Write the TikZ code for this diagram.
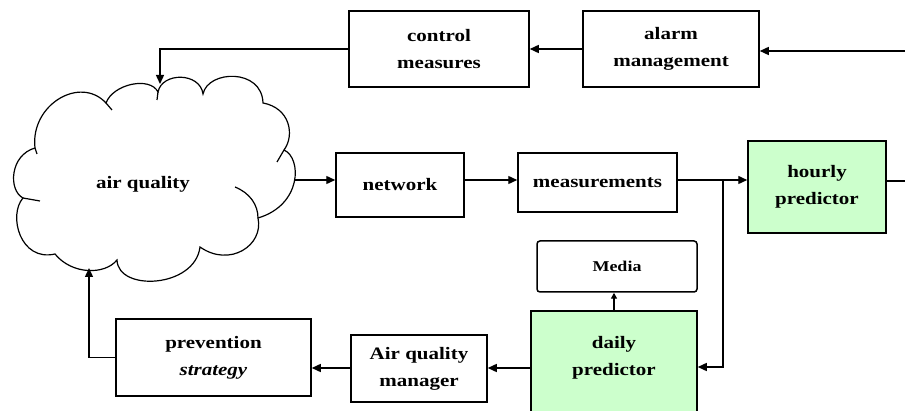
\documentclass[tikz,border=0pt]{standalone}
\usepackage{fontspec}
\setmainfont{Liberation Serif}[FakeStretch=1.2]
\usetikzlibrary{arrows.meta}
\definecolor{predgreen}{HTML}{CCFFCC}
\begin{document}
\begin{tikzpicture}[x=1pt,y=-1pt,
  lbl/.style={align=center, inner sep=0pt, font=\fontsize{17.5}{27}\selectfont\bfseries},
  box/.style={lbl, draw, line width=1.5pt},
  pred/.style={box, fill=predgreen},
  ln/.style={line width=1.4pt},
  arr/.style={ln, -{Triangle[length=9pt,width=8pt]}},
  sarr/.style={ln, -{Triangle[length=6pt,width=6pt]}},
  cloudline/.style={line width=1.2pt}]
\useasboundingbox (0,0) rectangle (905,411);
\fill[white] (0,0) rectangle (905,411);
\clip (0,0) rectangle (905,411);

% cloud
\draw[cloudline] (35,148) .. controls (30,105) and (80,75) .. (106,103)
 .. controls (113,84) and (150,76) .. (158,92)
 .. controls (162,72) and (200,72) .. (203,94)
 .. controls (208,70) and (262,68) .. (263,103)
 .. controls (290,108) and (295,135) .. (284,150)
 .. controls (302,158) and (302,205) .. (258,218)
 .. controls (264,245) and (230,268) .. (200,247)
 .. controls (195,288) and (118,292) .. (117,260)
 .. controls (105,275) and (72,275) .. (55,254)
 .. controls (20,262) and (8,215) .. (23,198)
 .. controls (8,190) and (10,155) .. cycle;
\draw[cloudline] (106,103) -- (112,110);
\draw[cloudline] (158,92) -- (157,100);
\draw[cloudline] (284,150) -- (277,162);
\draw[cloudline] (23,198) -- (40,201);
\draw[cloudline] (35,148) -- (37,154);
\draw[cloudline] (235,187) .. controls (250,193) and (258,205) .. (258,218);
\node[lbl] (cloud) at (143,184) {air quality};

% boxes
\node[box, minimum width=180pt, minimum height=76pt] (control) at (439,49) {control\\measures};
\node[box, minimum width=176pt, minimum height=76pt] (alarm) at (671,49) {alarm\\management};
\node[box, minimum width=128pt, minimum height=64pt] (network) at (400,185) {network};
\node[box, minimum width=159pt, minimum height=59pt] (meas) at (597.5,182.5) {measurements};
\node[pred, minimum width=138pt, minimum height=92pt] (hourly) at (817,187) {hourly\\predictor};
\node[box, rounded corners=3pt, minimum width=160pt, minimum height=51pt, font=\fontsize{15}{20}\selectfont\bfseries] (media) at (617,266.5) {Media};
\node[pred, minimum width=166pt, minimum height=104pt] (daily) at (614,363) {};
\node[lbl] (dailytext) at (614,358) {daily\\predictor};
\node[box, minimum width=136pt, minimum height=67pt] (aqm) at (419,368.5) {Air quality\\manager};
\node[box, minimum width=195pt, minimum height=77pt] (prev) at (213.5,357.5) {prevention\\\textit{strategy}};

% coordinates
\coordinate (cloudR) at (295,180);
\coordinate (cloudT) at (160,84);
\coordinate (cloudB) at (89,268);
\coordinate (rin) at (905,51);
\coordinate (rout) at (905,181);
\coordinate (jn) at (723,180);
\coordinate (jd) at (723,367);
\coordinate (ly) at (0,368);

% connectors
\draw[arr] (rin) -- (rin -| alarm.east);
\draw[arr] (alarm.west) -- (control.east);
\draw[arr] (control.west) -| (cloudT);
\draw[arr] (cloudR) -- (cloudR -| network.west);
\draw[arr] (network.east |- cloudR) -- (meas.west |- cloudR);
\draw[arr] (meas.east |- cloudR) -- (hourly.west |- cloudR);
\draw[ln] (hourly.east |- rout) -- (rout);
\draw[arr] (jn) -- (jd) -- (jd -| daily.east);
\draw[sarr] (daily.north) -- (daily.north |- media.south);
\draw[arr] (daily.west |- ly) -- (aqm.east |- ly);
\draw[arr] (aqm.west |- ly) -- (prev.east |- ly);
\draw[arr] (prev.west) -| (cloudB);
\end{tikzpicture}
\end{document}
